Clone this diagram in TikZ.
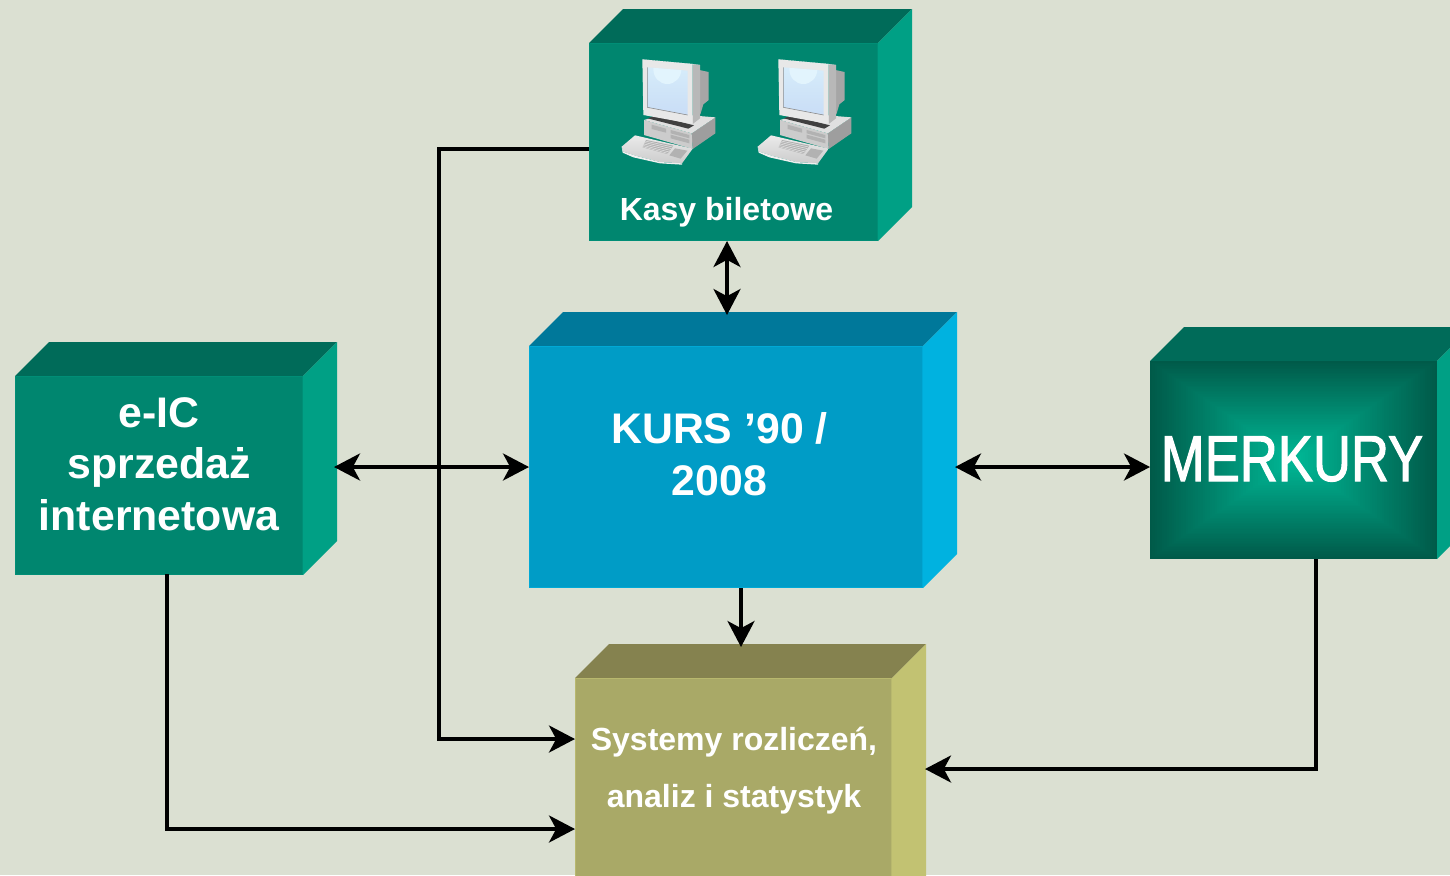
\documentclass[tikz,border=0pt]{standalone}
\usepackage{fontspec}
\setmainfont{Liberation Sans}
\newfontfamily\merkfont[FakeStretch=0.81,FakeBold=1.6]{Liberation Sans}
\usetikzlibrary{arrows.meta,calc}
\definecolor{bgc}{HTML}{DBE0D2}
\definecolor{gF}{HTML}{00866F}\definecolor{gT}{HTML}{006B59}\definecolor{gS}{HTML}{00A085}
\definecolor{bF}{HTML}{009CC6}\definecolor{bT}{HTML}{00789A}\definecolor{bS}{HTML}{00B2E0}
\definecolor{oF}{HTML}{A9A967}\definecolor{oT}{HTML}{85824F}\definecolor{oS}{HTML}{C2C272}
\definecolor{mC}{HTML}{00B896}\definecolor{mE}{HTML}{005A49}
\definecolor{scrA}{HTML}{D6ECFA}\definecolor{scrB}{HTML}{C9DDF6}\definecolor{scrH}{HTML}{E2F4FD}
\tikzset{
  bigtip/.tip={Stealth[length=13pt,width=13.5pt,inset=3.6pt]},
  conn/.style={draw=black,line width=1.8pt,line join=miter},
  boxtext/.style={text=white,font=\fontsize{21.4}{25.7}\selectfont\bfseries,align=center,inner sep=0pt},
  smalltext/.style={text=white,font=\fontsize{16}{28.5}\selectfont\bfseries,align=center,inner sep=0pt},
  merktext/.style={text=white,font=\fontsize{32.5}{36}\selectfont\merkfont,inner sep=0pt},
  front/.style={rectangle,inner sep=0pt,line width=0.5pt},
}
% #1 left, #2 top, #3 right, #4 bottom, #5 depth, #6 top colour, #7 side colour
\newcommand{\boxfaces}[7]{%
  \fill[#6] (#1,#2) -- ({#1+#5},{#2-#5}) -- ({#3+#5},{#2-#5}) -- (#3,#2) -- cycle;
  \fill[#7] (#3,#2) -- ({#3+#5},{#2-#5}) -- ({#3+#5},{#4-#5}) -- (#3,#4) -- cycle;
}
\newcommand{\pcicon}[2]{%
  \begin{scope}[shift={(#1,#2)},scale=1/3]
    % monitor back
    \fill[black!35] (268,60) -- (296,66) -- (296,150) -- (280,163) -- (272,190) -- (268,195) -- cycle;
    % base unit
    \fill[black!38] (245,250) -- (316,202) -- (316,250) -- (248,297) -- cycle;
    \fill[black!20] (102,210) -- (245,250) -- (248,297) -- (102,255) -- cycle;
    \fill[black!12] (102,210) -- (170,190) -- (316,202) -- (245,250) -- cycle;
    \fill[black!75] (113,205) -- (135,197) -- (252,226) -- (235,236) -- cycle;
    \fill[black!30] (125,224) -- (168,236) -- (168,248) -- (125,237) -- cycle;
    \fill[black!30] (182,240) -- (238,255) -- (238,265) -- (182,250) -- cycle;
    \fill[black!30] (182,254) -- (238,269) -- (238,280) -- (182,265) -- cycle;
    % monitor
    \fill[black!28] (248,42) -- (270,45) -- (270,205) -- (248,222) -- cycle;
    \fill[black!9] (97,28) -- (248,42) -- (248,222) -- (100,195) -- cycle;
    \fill[black!5] (97,28) -- (270,45) -- (248,42) -- cycle;
    \shade[top color=scrA,bottom color=scrB]
      (112,52) -- (233,62) -- (233,195) -- (112,172) -- cycle;
    \begin{scope}
      \clip (112,52) -- (233,62) -- (233,195) -- (112,172) -- cycle;
      \fill[scrH] (172,58) ellipse (42 and 44);
    \end{scope}
    \draw[black!45,line width=0.3pt] (112,52) -- (112,172) -- (233,195);
    % keyboard
    \shade[top color=black!8,bottom color=black!20]
      (35,290) -- (75,256) -- (248,296) -- (216,340) -- (150,336) -- (80,318) -- (40,305) -- cycle;
    \fill[black!32] (108,270) -- (190,287) -- (172,312) -- (98,292) -- cycle;
    \foreach \t in {0.15,0.35,0.55,0.75,0.92}{
      \draw[white!85!black,line width=0.4pt]
        ($(108,270)!\t!(98,292)$) -- ($(190,287)!\t!(172,312)$);
    }
    \fill[black!30] (195,295) -- (232,302) -- (212,326) -- (178,316) -- cycle;
    \fill[black!6] (35,290) -- (40,305) -- (80,318) -- (150,336) -- (216,340) -- (216,344) -- (150,340) -- (70,322) -- (38,308) -- cycle;
  \end{scope}
}
\begin{document}
\begin{tikzpicture}[x=0.5pt,y=-0.5pt]
  \useasboundingbox (0,0) rectangle (1450,875);
  \clip (0,0) rectangle (1450,875);
  \fill[bgc] (0,0) rectangle (1450,875);

  % Kasy biletowe
  \boxfaces{589}{43}{878}{241}{34}{gT}{gS}
  \node[front,fill=gF,draw=gS!30!gF,minimum width=144pt,minimum height=98.5pt] (kasy) at (733.5,142) {};
  \pcicon{610}{50}
  \pcicon{746}{50}
  \node[smalltext,anchor=base] (kasyT) at (726.5,220) {Kasy biletowe};

  % e-IC
  \boxfaces{15}{376}{303}{575}{34}{gT}{gS}
  \node[front,fill=gF,draw=gS!30!gF,minimum width=143.5pt,minimum height=99pt] (eic) at (159,475.5) {};
  \node[boxtext] (eicT) at (159,464) {e-IC\\sprzedaż\\internetowa};

  % KURS
  \boxfaces{529}{346}{923}{588}{34}{bT}{bS}
  \node[front,fill=bF,draw=bS!60!bF,minimum width=196.5pt,minimum height=120.5pt] (kurs) at (726,467) {};
  \node[boxtext] (kursT) at (719.5,454) {KURS ’90 /\\2008};

  % MERKURY
  \boxfaces{1150}{361}{1437}{559}{34}{gT}{gS}
  \node[front,minimum width=143.5pt,minimum height=99pt] (merk) at (1293.5,460) {};
  \foreach \i in {0,...,59}{
    \pgfmathsetmacro{\f}{1-\i/60}
    \pgfmathsetmacro{\p}{100*\i/59}
    \fill[mC!\p!mE] ({1293.5-143.5*\f},{460-99*\f}) rectangle ({1293.5+143.5*\f},{460+99*\f});
  }
  \node[merktext,anchor=base] (merkT) at (1292,481) {MERKURY};

  % Systemy
  \boxfaces{575}{678}{892}{920}{34}{oT}{oS}
  \node[front,fill=oF,draw=oS!60!oF,minimum width=158pt,minimum height=121pt] (sys) at (733.5,799) {};
  \node[smalltext] (sysT) at (734,770.5) {Systemy rozliczeń,\\analiz i statystyk};

  % ports
  \coordinate (kasyL) at (589,149);
  \coordinate (kasyB) at (727,241);
  \coordinate (kursTop) at (727,315);
  \coordinate (kursW) at (529,467);
  \coordinate (kursE) at (955,467);
  \coordinate (kursB) at (741,588);
  \coordinate (eicE) at (334,467);
  \coordinate (eicB) at (167,574);
  \coordinate (merkW) at (1150,467);
  \coordinate (merkB) at (1316,559);
  \coordinate (sysTop) at (741,647);
  \coordinate (sysW1) at (575,739);
  \coordinate (sysW2) at (575,829);
  \coordinate (sysE) at (925,769);

  % connectors
  \draw[conn,-{bigtip}] (kasyL) -| (439,739) -- (sysW1);
  \draw[conn,{bigtip}-{bigtip}] (kasyB) -- (kursTop);
  \draw[conn,{bigtip}-{bigtip}] (eicE) -- (kursW);
  \draw[conn,{bigtip}-{bigtip}] (kursE) -- (merkW);
  \draw[conn,-{bigtip}] (kursB) -- (sysTop);
  \draw[conn,-{bigtip}] (eicB) |- (sysW2);
  \draw[conn,-{bigtip}] (merkB) |- (sysE);
\end{tikzpicture}
\end{document}
